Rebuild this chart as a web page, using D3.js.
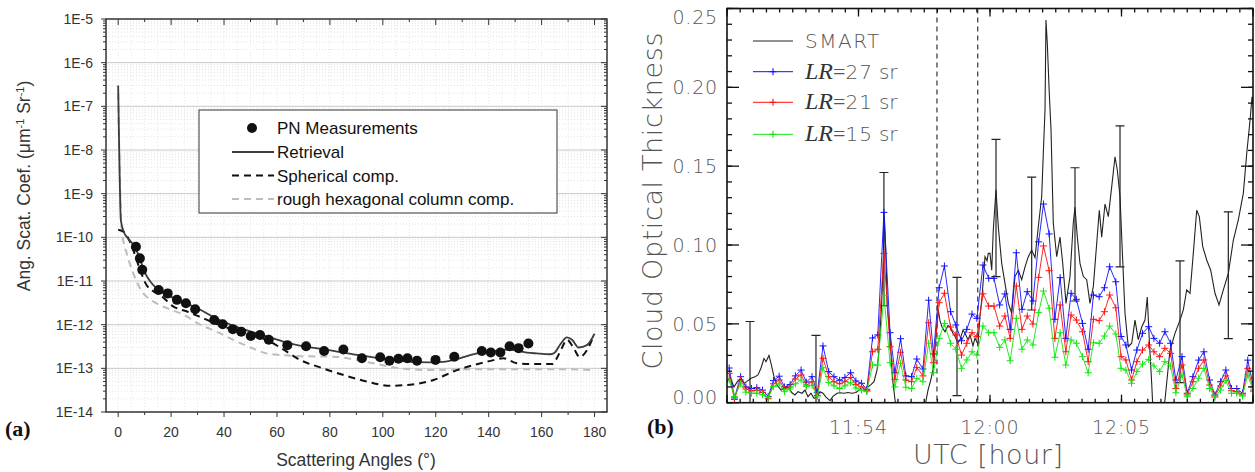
<!DOCTYPE html>
<html><head><meta charset="utf-8">
<script src="https://cdn.jsdelivr.net/npm/d3@7"></script>
<style>body{margin:0;background:#fff}svg{display:block}</style>
</head><body>
<svg id="c" width="1255" height="472"></svg>
<script>
// ---------------- Panel (a) data ----------------
const pnAngle = [6.7, 8.2, 9.1, 15.3, 18.7, 22.2, 25.6, 29.1, 36.3, 39.5, 43.3, 46.5, 50.1, 53.6, 56.9, 63.9, 71, 77.8, 85.1, 92.1, 99, 102.5, 105.9, 109.3, 112.9, 119.9, 127, 137.4, 140.8, 144.4, 147.9, 151.3, 155];
const pnValue = [6.1e-11, 3.3e-11, 1.8e-11, 6.2e-12, 5.2e-12, 3.7e-12, 3.1e-12, 2.25e-12, 1.28e-12, 1.02e-12, 7.9e-13, 6.9e-13, 5.5e-13, 5.8e-13, 4.5e-13, 3.4e-13, 3.2e-13, 2.5e-13, 2.7e-13, 1.7e-13, 1.8e-13, 1.5e-13, 1.65e-13, 1.7e-13, 1.5e-13, 1.56e-13, 1.85e-13, 2.5e-13, 2.3e-13, 2.3e-13, 3.2e-13, 2.9e-13, 3.7e-13];

const retAngle = [0, 0.3, 0.6, 1, 2, 4, 6, 8, 10, 12, 14.5, 18, 22, 26, 31, 36, 40, 45, 50, 56, 63, 70, 76.5, 85, 92, 99, 106, 112.9, 118, 122.9, 129, 135.6, 141, 148, 151, 154.5, 158, 163.3, 165, 167, 169.6, 171.5, 174, 177.1, 180];
const retValue = [3e-7, 2e-8, 2e-9, 2.5e-10, 1.4e-10, 9e-11, 6.5e-11, 3.5e-11, 1.6e-11, 1e-11, 6.8e-12, 5e-12, 3.8e-12, 3e-12, 2.2e-12, 1.5e-12, 1.15e-12, 8.8e-13, 7e-13, 5.4e-13, 4e-13, 3.2e-13, 2.8e-13, 2.3e-13, 1.95e-13, 1.7e-13, 1.5e-13, 1.38e-13, 1.37e-13, 1.4e-13, 1.7e-13, 2.2e-13, 2.45e-13, 2.7e-13, 2.5e-13, 2.3e-13, 2.2e-13, 2.1e-13, 2.3e-13, 3.5e-13, 5.1e-13, 4.5e-13, 3e-13, 3.4e-13, 6.2e-13];

const sphAngle = [0, 2, 4, 5.7, 8, 10.7, 13, 15.8, 20.9, 26, 31, 37, 43.5, 50, 56, 62, 68.8, 76.3, 81.3, 87, 93.9, 102.8, 110.3, 119.1, 128, 136.8, 141, 145.6, 150.7, 157, 164, 165.5, 167.5, 169.6, 172, 174.4, 177.1, 179.6];
const sphValue = [1.5e-10, 1.35e-10, 9e-11, 5.1e-11, 2e-11, 8.1e-12, 6e-12, 4.8e-12, 2.6e-12, 2e-12, 1.5e-12, 1.05e-12, 7.6e-13, 5.8e-13, 4.5e-13, 2.8e-13, 1.55e-13, 1.05e-13, 8.3e-14, 6.5e-14, 5e-14, 4e-14, 4.2e-14, 5.4e-14, 9.1e-14, 1.3e-13, 1.5e-13, 1.7e-13, 1.3e-13, 1.26e-13, 1.26e-13, 1.6e-13, 2.8e-13, 4.5e-13, 3e-13, 1.8e-13, 2.6e-13, 5.5e-13];

const hexAngle = [0, 0.5, 1, 1.3, 2, 3.2, 5.7, 9.5, 12, 15.8, 20, 24.6, 31, 37, 43.5, 50, 56, 62, 68.8, 81.3, 93.9, 106.5, 119.1, 131.8, 144.4, 157, 169.6, 178.4];
const hexValue = [2e-7, 5e-9, 4e-10, 1.5e-10, 8e-11, 4.3e-11, 1.5e-11, 5.2e-12, 3.8e-12, 2.8e-12, 2.2e-12, 1.7e-12, 1e-12, 7e-13, 4.5e-13, 3e-13, 2.2e-13, 2e-13, 1.9e-13, 1.85e-13, 1.4e-13, 1e-13, 9.1e-14, 9.5e-14, 9.5e-14, 9.5e-14, 9.5e-14, 9.1e-14];

const aXTicks = [0, 20, 40, 60, 80, 100, 120, 140, 160, 180];
const aYTickLabels = ['1E-14','1E-13','1E-12','1E-11','1E-10','1E-9','1E-8','1E-7','1E-6','1E-5'];
const aLegend = ['PN Measurements', 'Retrieval', 'Spherical comp.', 'rough hexagonal column comp.'];

// ---------------- Panel (b) data (seconds after 11:50:00) ----------------
const smartTime = [0,6.8,15.9,22.8,31.9,38.8,45.6,54.8,63.9,70.7,
 77.6,84.4,89,95.8,100.4,107.2,114.1,123.2,132.3,139.2,
 148.3,155.1,162,171.1,178,184.8,191.6,198.5,205.3,212.2,
 219,225.9,235,241.8,251,257.8,266.9,276,285.2,294.3,
 301.1,308,314.8,321.7,328.5,335.4,342.2,346.8,352.5,355.9,
 358.9,362.1,365.7,371.9,377.1,383.3,387.8,394.7,440.3,451.7,
 458.6,465.4,471.1,478,482,485.9,490.5,497.3,504.2,508.7,
 515.6,520.2,527,531.6,538.4,543,549.8,554.4,561.2,565.8,
 572.6,577.2,581.8,588.6,593.2,596.1,600,603.9,607.5,613.7,
 618.9,626.7,634.2,641.8,649.5,657,664.6,672.3,679.9,687.4,
 695.1,702.7,710.2,717.9,721.6,725.5,727.7,730.7,735.3,739.2,
 744.4,752.2,759.7,765.9,773.4,782.5,790,793.9,799.2,805.3,
 812.9,820.6,828.1,835.7,843.4,849.4,854.8,862.4,869.9,877.7,
 885.2,890.4,896.6,902.7,908,915.5,923.3,930.8,938.3,946.1,
 953.6,958.8,963.4,968.9,971.8,994.6,999.2,1010.6,1022,1033.5,
 1041,1048.8,1056.3,1063.8,1071.6,1077.5,1085.3,1094.4,1103.5,1113.3,
 1122.5,1132.3,1143.7,1155.1,1166.5,1177.9,1185.7,1193.2,1197.8,1203];
const smartTau = [0.013,0.0165,0.010,0.013,0.0155,0.0123,0.0135,0.0155,0.0165,0.0176,
 0.022,0.028,0.026,0.030,0.025,0.0165,0.0112,0.008,0.0091,0.010,
 0.0063,0.0049,0.007,0.006,0.008,0.0038,0.006,0.0028,0.0038,0.007,
 0.006,0.0035,0.0013,0.004,0.006,0.0063,0.006,0.0065,0.006,0.0065,
 0.008,0.010,0.008,0.010,0.0115,0.0133,0.0207,0.0334,0.061,0.084,
 0.118,0.097,0.061,0.042,0.0165,0.0017,-0.004,-0.01,-0.01,-0.002,
 0.008,0.015,0.0228,0.046,0.0588,0.052,0.048,0.045,0.049,0.048,
 0.044,0.042,0.038,0.040,0.046,0.044,0.040,0.043,0.036,0.041,
 0.037,0.055,0.067,0.0926,0.090,0.0947,0.0947,0.084,0.1095,0.135,
 0.1116,0.0884,0.0757,0.063,0.0567,0.080,0.084,0.078,0.0862,0.0926,
 0.0968,0.092,0.1116,0.1306,0.158,0.1856,0.2427,0.228,0.196,0.173,
 0.1138,0.0926,0.105,0.0884,0.063,0.080,0.1138,0.124,0.105,0.0884,
 0.080,0.078,0.063,0.0736,0.101,0.122,0.105,0.126,0.118,0.137,
 0.156,0.1476,0.1306,0.0905,0.0567,0.0355,0.0377,0.0524,0.040,0.048,
 0.0524,0.067,0.0398,0.0123,-0.005,-0.005,0.0017,0.0334,0.044,0.0524,
 0.0588,0.0715,0.0694,0.0947,0.122,0.118,0.099,0.0905,0.084,0.0694,
 0.062,0.0715,0.082,0.103,0.116,0.1328,0.158,0.179,0.194,0.185];

const lrTime = [5,17,31,43,56,68,81,94,106,119,
 131,144,156,169,181,194,206,219,232,244,
 257,269,282,294,307,319,332,344,358,372,
 383,396,408,421,433,447,460,471,484,496,
 510,522,535,547,559,570,584,597,609,622,
 634,646,660,673,685,698,711,722,735,748,
 760,773,785,797,811,824,836,849,861,873,
 887,899,910,923,935,948,962,974,987,999,
 1012,1024,1038,1050,1063,1076,1088,1101,1113,1126,
 1138,1151,1163,1176,1188,1201];
const lr27 = [0.022,0.003,0.0165,0.010,0.009,0.0095,0.008,0.004,0.014,0.0168,
 0.010,0.0115,0.017,0.0207,0.013,0.0165,0.0063,0.036,0.0197,0.0165,
 0.0142,0.016,0.019,0.0138,0.0123,0.0085,0.041,0.043,0.1207,0.0444,
 0.019,0.0406,0.017,0.0165,0.0277,0.0214,0.065,0.0309,0.0729,0.0867,
 0.0577,0.0493,0.0393,0.0465,0.0562,0.0535,0.0873,0.0789,0.0789,0.062,
 0.069,0.0465,0.0951,0.0592,0.0704,0.0645,0.102,0.126,0.107,0.0529,
 0.0793,0.0408,0.0694,0.0656,0.0503,0.0339,0.0683,0.0672,0.0729,0.0862,
 0.0767,0.042,0.0366,0.0207,0.0334,0.044,0.0482,0.0408,0.0377,0.045,
 0.0377,0.0144,0.0292,0.006,0.0165,0.027,0.0323,0.0144,0.0049,0.0133,
 0.0207,0.009,0.009,0.006,0.027,0.010];
const lr21 = [0.0186,0.002,0.0144,0.0087,0.0075,0.008,0.0065,0.0025,0.012,0.0144,
 0.0087,0.010,0.015,0.0176,0.0112,0.0133,0.0046,0.0282,0.0165,0.0133,
 0.012,0.0133,0.016,0.0115,0.010,0.0076,0.0323,0.0339,0.0947,0.0355,
 0.0148,0.032,0.0144,0.0133,0.0224,0.017,0.0507,0.0254,0.0634,0.0694,
 0.048,0.043,0.0302,0.0377,0.0444,0.0419,0.069,0.0613,0.0613,0.0486,
 0.055,0.0408,0.074,0.0465,0.055,0.0499,0.0795,0.0994,0.0837,0.0408,
 0.062,0.0323,0.0556,0.0524,0.045,0.026,0.0529,0.052,0.0577,0.0683,
 0.0602,0.0292,0.0271,0.0144,0.026,0.0334,0.0366,0.0323,0.0292,0.0345,
 0.0313,0.009,0.0239,0.0049,0.0133,0.0218,0.0271,0.0112,0.0042,0.0106,
 0.017,0.0076,0.007,0.0049,0.0218,0.008];
const lr15 = [0.0144,0.004,0.012,0.0067,0.006,0.006,0.005,0.0036,0.0102,0.012,
 0.007,0.0087,0.012,0.0144,0.0102,0.011,0.0036,0.0222,0.0127,0.0107,
 0.009,0.0107,0.0127,0.0093,0.008,0.007,0.0239,0.0239,0.0679,0.0254,
 0.010,0.025,0.0098,0.009,0.0155,0.0133,0.0377,0.019,0.0408,0.0503,
 0.0377,0.0339,0.0218,0.0271,0.0323,0.0302,0.0486,0.0444,0.0444,0.0351,
 0.0398,0.0266,0.0535,0.0339,0.0398,0.0366,0.0571,0.0708,0.0599,0.0288,
 0.0444,0.0239,0.0398,0.0377,0.0292,0.019,0.038,0.0377,0.0423,0.0486,
 0.0436,0.0218,0.0207,0.0123,0.0197,0.0245,0.0275,0.0233,0.0197,0.026,
 0.0233,0.0063,0.0176,0.0038,0.009,0.0155,0.0218,0.009,0.0034,0.008,
 0.014,0.006,0.006,0.0042,0.0176,0.007];

const errTime = [52.5, 203, 358, 524.7, 613.7, 695.1, 793.9, 896.6, 1033.5, 1143.7];
const errLow  = [-0.01, -0.01, 0.0615, 0.0045, 0.080, 0.0588, 0.0645, 0.0862, 0.0127, 0.0406];
const errHigh = [0.0515, 0.0427, 0.146, 0.0795, 0.167, 0.143, 0.149, 0.1755, 0.0899, 0.121];
const markerTime = [479, 572];

const bYTicks = [0, 0.05, 0.10, 0.15, 0.20, 0.25];
const bXTicks = [300, 600, 900];
const bXTickLabels = ['11:54', '12:00', '12:05'];
const bSeries = [
  {name: 'SMART', color: '#222'},
  {name: '27', color: '#1010ff', values: lr27},
  {name: '21', color: '#ff1010', values: lr21},
  {name: '15', color: '#10e810', values: lr15}
];

// =====================================================
const svg = d3.select('#c');
const defs = svg.append('defs');

// ---------------- Panel (a) ----------------
const ax = d3.scaleLinear().domain([-4.6, 184.7]).range([106, 607]);
const ay = d3.scaleLog().domain([1e-14, 1e-5]).range([412, 19]);
const A = {l: 106, r: 607, t: 19, b: 412};
defs.append('clipPath').attr('id', 'clipA').append('rect')
  .attr('x', A.l).attr('y', A.t).attr('width', A.r - A.l).attr('height', A.b - A.t);

const gA = svg.append('g').attr('font-family', 'Liberation Sans, Arial, sans-serif');
const decadeExp = d3.range(-14, -4);
const minorLog = [];
decadeExp.slice(0, -1).forEach(e => { for (let m = 2; m <= 9; m++) minorLog.push(m * Math.pow(10, e)); });
const majorLog = decadeExp.map(e => Math.pow(10, e));

// faint dotted minor grid
gA.append('g').selectAll('line').data(minorLog).join('line')
  .attr('x1', A.l).attr('x2', A.r).attr('y1', d => ay(d)).attr('y2', d => ay(d))
  .attr('stroke', '#e2e2e2').attr('stroke-dasharray', '1,2');
gA.append('g').selectAll('line').data(d3.range(0, 185, 5)).join('line')
  .attr('x1', d => ax(d)).attr('x2', d => ax(d)).attr('y1', A.t).attr('y2', A.b)
  .attr('stroke', '#e9e9e9').attr('stroke-dasharray', '1,2');
// major horizontal grid
gA.append('g').selectAll('line').data(majorLog.slice(1, -1)).join('line')
  .attr('x1', A.l).attr('x2', A.r).attr('y1', d => ay(d)).attr('y2', d => ay(d))
  .attr('stroke', '#c8c8c8').attr('stroke-width', 1);

// ticks
const tA = gA.append('g').attr('stroke', '#333').attr('stroke-width', 1);
const xMajor = aXTicks, xMinor = d3.range(10, 180, 20);
tA.selectAll('.xb').data(xMajor).join('line').attr('x1', d => ax(d)).attr('x2', d => ax(d)).attr('y1', A.b).attr('y2', A.b + 5);
tA.selectAll('.xbm').data(xMinor).join('line').attr('x1', d => ax(d)).attr('x2', d => ax(d)).attr('y1', A.b).attr('y2', A.b + 3);
tA.selectAll('.xt').data(xMajor).join('line').attr('x1', d => ax(d)).attr('x2', d => ax(d)).attr('y1', A.t).attr('y2', A.t + 6);
tA.selectAll('.xtm').data(xMinor).join('line').attr('x1', d => ax(d)).attr('x2', d => ax(d)).attr('y1', A.t).attr('y2', A.t + 3);
tA.append('g').selectAll('line').data(majorLog).join('line').attr('x1', A.l - 5).attr('x2', A.l).attr('y1', d => ay(d)).attr('y2', d => ay(d));
tA.append('g').selectAll('line').data(minorLog).join('line').attr('x1', A.l - 3).attr('x2', A.l).attr('y1', d => ay(d)).attr('y2', d => ay(d));
tA.append('g').selectAll('line').data(majorLog).join('line').attr('x1', A.r - 6).attr('x2', A.r).attr('y1', d => ay(d)).attr('y2', d => ay(d));
tA.append('g').selectAll('line').data(minorLog).join('line').attr('x1', A.r - 3).attr('x2', A.r).attr('y1', d => ay(d)).attr('y2', d => ay(d));

// tick labels
gA.append('g').selectAll('text').data(majorLog).join('text')
  .attr('x', 93).attr('y', d => ay(d) + 5).attr('text-anchor', 'end')
  .attr('font-size', 14).attr('fill', '#333').text((d, i) => aYTickLabels[i]);
gA.append('g').selectAll('text').data(aXTicks).join('text')
  .attr('x', d => ax(d)).attr('y', 437).attr('text-anchor', 'middle')
  .attr('font-size', 14).attr('fill', '#333').text(d => String(d));

// frame
gA.append('rect').attr('x', A.l).attr('y', A.t).attr('width', A.r - A.l).attr('height', A.b - A.t)
  .attr('fill', 'none').attr('stroke', '#333').attr('stroke-width', 1.5);

// curves
const lineA = d3.line().x(d => ax(d[0])).y(d => ay(d[1])).curve(d3.curveMonotoneX);
const cA = gA.append('g').attr('clip-path', 'url(#clipA)');
cA.append('path').datum(d3.zip(hexAngle, hexValue)).attr('d', lineA)
  .attr('fill', 'none').attr('stroke', '#bdbdbd').attr('stroke-width', 2).attr('stroke-dasharray', '7,5');
cA.append('path').datum(d3.zip(sphAngle, sphValue)).attr('d', lineA)
  .attr('fill', 'none').attr('stroke', '#111').attr('stroke-width', 2).attr('stroke-dasharray', '7,5');
cA.append('path').datum(d3.zip(retAngle, retValue)).attr('d', lineA)
  .attr('fill', 'none').attr('stroke', '#3c3c3c').attr('stroke-width', 1.8);
cA.append('g').selectAll('circle').data(d3.zip(pnAngle, pnValue)).join('circle')
  .attr('cx', d => ax(d[0])).attr('cy', d => ay(d[1])).attr('r', 5).attr('fill', '#111');

// legend (a)
const lgA = gA.append('g');
lgA.append('rect').attr('x', 199).attr('y', 110).attr('width', 358).attr('height', 103)
  .attr('fill', '#fff').attr('stroke', '#333').attr('stroke-width', 1);
const lgY = [128, 152, 175.5, 199];
lgA.append('circle').attr('cx', 252).attr('cy', lgY[0]).attr('r', 5).attr('fill', '#111');
lgA.append('line').attr('x1', 232).attr('x2', 274).attr('y1', lgY[1]).attr('y2', lgY[1]).attr('stroke', '#3c3c3c').attr('stroke-width', 1.8);
lgA.append('line').attr('x1', 232).attr('x2', 274).attr('y1', lgY[2]).attr('y2', lgY[2]).attr('stroke', '#111').attr('stroke-width', 2).attr('stroke-dasharray', '7,5');
lgA.append('line').attr('x1', 232).attr('x2', 274).attr('y1', lgY[3]).attr('y2', lgY[3]).attr('stroke', '#bdbdbd').attr('stroke-width', 2).attr('stroke-dasharray', '7,5');
lgA.selectAll('text.l').data(aLegend).join('text').attr('x', 277).attr('y', (d, i) => lgY[i] + 6)
  .attr('font-size', 17).attr('fill', '#111').text(d => d);

// axis titles (a)
gA.append('text').attr('x', 356).attr('y', 466).attr('text-anchor', 'middle')
  .attr('font-size', 17.5).attr('fill', '#333').text('Scattering Angles (°)');
const yt = gA.append('text').attr('transform', 'translate(30,186) rotate(-90)').attr('text-anchor', 'middle')
  .attr('font-size', 17.5).attr('fill', '#333');
yt.append('tspan').text('Ang. Scat. Coef. (μm');
yt.append('tspan').attr('dy', -6).attr('font-size', 11).text('-1');
yt.append('tspan').attr('dy', 6).text(' Sr');
yt.append('tspan').attr('dy', -6).attr('font-size', 11).text('-1');
yt.append('tspan').attr('dy', 6).text(')');

svg.append('text').attr('x', 5).attr('y', 436).attr('font-family', 'Liberation Serif, serif')
  .attr('font-weight', 'bold').attr('font-size', 22).attr('fill', '#111').text('(a)');

// ---------------- Panel (b) ----------------
const B = {l: 727, r: 1253, t: 8.5, b: 402.7};
const bx = d3.scaleLinear().domain([0, 1200]).range([B.l, B.r]);
const by = d3.scaleLinear().domain([0, 0.25]).range([B.b, B.t]);
defs.append('clipPath').attr('id', 'clipB').append('rect')
  .attr('x', B.l).attr('y', B.t).attr('width', B.r - B.l).attr('height', B.b - B.t);
const gB = svg.append('g').attr('font-family', 'DejaVu Sans, sans-serif').attr('font-weight', 200);
const cB = gB.append('g').attr('clip-path', 'url(#clipB)');

// SMART
const lineB = d3.line().x(d => bx(d[0])).y(d => by(d[1]));
cB.append('path').datum(d3.zip(smartTime, smartTau)).attr('d', lineB)
  .attr('fill', 'none').attr('stroke', '#222').attr('stroke-width', 1.1);

// error bars
const eb = cB.append('g').attr('stroke', '#222').attr('stroke-width', 1.2);
errTime.forEach((t, i) => {
  const x = bx(t);
  eb.append('line').attr('x1', x).attr('x2', x).attr('y1', by(errLow[i])).attr('y2', by(errHigh[i]));
  eb.append('line').attr('x1', x - 4.5).attr('x2', x + 4.5).attr('y1', by(errLow[i])).attr('y2', by(errLow[i]));
  eb.append('line').attr('x1', x - 4.5).attr('x2', x + 4.5).attr('y1', by(errHigh[i])).attr('y2', by(errHigh[i]));
});

// dashed markers
cB.append('g').selectAll('line').data(markerTime).join('line')
  .attr('x1', d => bx(d)).attr('x2', d => bx(d)).attr('y1', B.t).attr('y2', B.b)
  .attr('stroke', '#333').attr('stroke-width', 1.2).attr('stroke-dasharray', '5,4');

// LR series
const plus = 'M-3.5,0H3.5M0,-3.5V3.5';
bSeries.slice(1).forEach(s => {
  const pts = d3.zip(lrTime, s.values);
  cB.append('path').datum(pts).attr('d', lineB).attr('fill', 'none').attr('stroke', s.color).attr('stroke-width', 0.9);
  cB.append('g').selectAll('path').data(pts).join('path')
    .attr('transform', d => `translate(${bx(d[0])},${by(d[1])})`).attr('d', plus)
    .attr('stroke', s.color).attr('stroke-width', 1);
});

// axes ticks (inward)
const tB = gB.append('g').attr('stroke', '#111').attr('stroke-width', 1.3);
const bYMinor = d3.range(0, 26).map(i => i / 100);
const bXMinor = d3.range(0, 1201, 30);
const bXMajor = d3.range(0, 1201, 300);
tB.append('g').selectAll('line').data(bYMinor).join('line').attr('x1', B.l).attr('x2', B.l + 5).attr('y1', d => by(d)).attr('y2', d => by(d));
tB.append('g').selectAll('line').data(bYTicks).join('line').attr('x1', B.l).attr('x2', B.l + 12).attr('y1', d => by(d)).attr('y2', d => by(d));
tB.append('g').selectAll('line').data(bYMinor).join('line').attr('x1', B.r - 5).attr('x2', B.r).attr('y1', d => by(d)).attr('y2', d => by(d));
tB.append('g').selectAll('line').data(bYTicks).join('line').attr('x1', B.r - 12).attr('x2', B.r).attr('y1', d => by(d)).attr('y2', d => by(d));
tB.append('g').selectAll('line').data(bXMinor).join('line').attr('x1', d => bx(d)).attr('x2', d => bx(d)).attr('y1', B.b).attr('y2', B.b - 4);
tB.append('g').selectAll('line').data(bXMajor).join('line').attr('x1', d => bx(d)).attr('x2', d => bx(d)).attr('y1', B.b).attr('y2', B.b - 8);
tB.append('g').selectAll('line').data(bXMinor).join('line').attr('x1', d => bx(d)).attr('x2', d => bx(d)).attr('y1', B.t).attr('y2', B.t + 4);
tB.append('g').selectAll('line').data(bXMajor).join('line').attr('x1', d => bx(d)).attr('x2', d => bx(d)).attr('y1', B.t).attr('y2', B.t + 8);

gB.append('rect').attr('x', B.l).attr('y', B.t).attr('width', B.r - B.l).attr('height', B.b - B.t)
  .attr('fill', 'none').attr('stroke', '#111').attr('stroke-width', 1.6);

// tick labels
gB.append('g').selectAll('text').data(bYTicks).join('text')
  .attr('x', 718).attr('y', d => Math.min(Math.max(by(d), 17), 397) + 7)
  .attr('text-anchor', 'end').attr('font-size', 19).attr('letter-spacing', 0.8).attr('fill', '#555')
  .text(d => d.toFixed(2));
gB.append('g').selectAll('text').data(bXTicks).join('text')
  .attr('x', d => bx(d)).attr('y', 434).attr('text-anchor', 'middle')
  .attr('font-size', 19).attr('letter-spacing', 0.8).attr('fill', '#555')
  .text((d, i) => bXTickLabels[i]);

// titles
gB.append('text').attr('transform', 'translate(662,201) rotate(-90)').attr('text-anchor', 'middle')
  .attr('font-size', 27).attr('fill', '#555').attr('textLength', 337).attr('lengthAdjust', 'spacing')
  .text('Cloud Optical Thickness');
gB.append('text').attr('x', 988).attr('y', 464).attr('text-anchor', 'middle')
  .attr('font-size', 27).attr('fill', '#555').attr('textLength', 150).attr('lengthAdjust', 'spacing')
  .text('UTC [hour]');

// legend (b)
const lgB = gB.append('g');
const lbY = [41, 71.7, 102.3, 134.3];
bSeries.forEach((s, i) => {
  lgB.append('line').attr('x1', 753).attr('x2', 793).attr('y1', lbY[i]).attr('y2', lbY[i]).attr('stroke', s.color).attr('stroke-width', 1);
  if (i > 0) lgB.append('path').attr('transform', `translate(773,${lbY[i]})`).attr('d', plus).attr('stroke', s.color).attr('stroke-width', 1.1);
  const t = lgB.append('text').attr('x', 805).attr('y', lbY[i] + 7).attr('font-size', 20).attr('fill', '#555');
  if (i === 0) {
    t.attr('letter-spacing', 1.5).text(s.name);
  } else {
    t.append('tspan').attr('font-family', 'Liberation Serif, serif').attr('font-weight', 400).attr('font-style', 'italic').attr('font-size', 24).attr('fill', '#333').text('LR');
    t.append('tspan').attr('font-family', 'Liberation Serif, serif').attr('font-weight', 400).attr('font-size', 22).attr('fill', '#555').text('=');
    t.append('tspan').attr('letter-spacing', 1).text(s.name);
    t.append('tspan').attr('dx', 6).text('sr');
  }
});

svg.append('text').attr('x', 647).attr('y', 434).attr('font-family', 'Liberation Serif, serif')
  .attr('font-weight', 'bold').attr('font-size', 22).attr('fill', '#111').text('(b)');
</script>
</body></html>
